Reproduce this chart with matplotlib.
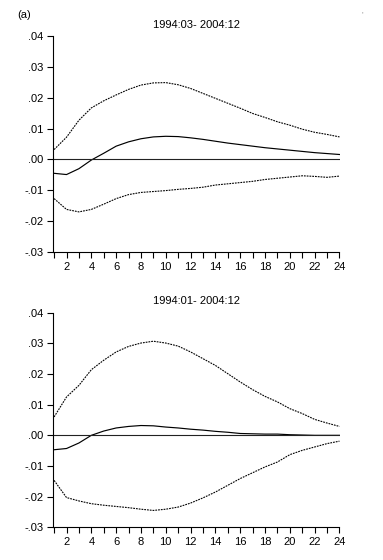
import matplotlib
matplotlib.use("Agg")
import matplotlib.pyplot as plt
from matplotlib.ticker import FixedLocator, FixedFormatter

plt.rcParams['font.family'] = ['Liberation Sans', 'DejaVu Sans']

horizon = list(range(1, 25))

titles = ["1994:03- 2004:12", "1994:01- 2004:12"]

mean_top = [-0.0045, -0.0049, -0.0030, -0.0002, 0.0020, 0.0043, 0.0057, 0.0067, 0.0073, 0.0075,
            0.0074, 0.0070, 0.0065, 0.0059, 0.0053, 0.0048, 0.0043, 0.0038, 0.0034, 0.0030,
            0.0026, 0.0022, 0.0019, 0.0016]
upper_top = [0.0032, 0.0072, 0.0127, 0.0167, 0.0190, 0.0209, 0.0227, 0.0241, 0.0248, 0.0249,
             0.0242, 0.0230, 0.0214, 0.0198, 0.0182, 0.0166, 0.0149, 0.0136, 0.0122, 0.0111,
             0.0098, 0.0088, 0.0081, 0.0073]
lower_top = [-0.0127, -0.0162, -0.0170, -0.0162, -0.0145, -0.0127, -0.0114, -0.0107, -0.0104, -0.0101,
             -0.0097, -0.0094, -0.0090, -0.0083, -0.0079, -0.0075, -0.0071, -0.0065, -0.0061, -0.0057,
             -0.0053, -0.0055, -0.0058, -0.0054]

mean_bot = [-0.0047, -0.0043, -0.0025, 0.0000, 0.0014, 0.0024, 0.0029, 0.0032, 0.0031, 0.0027,
            0.0024, 0.0020, 0.0017, 0.0013, 0.0010, 0.0006, 0.0005, 0.0004, 0.0004, 0.0002,
            0.0001, 0.0000, 0.0000, 0.0000]
upper_bot = [0.0060, 0.0125, 0.0163, 0.0214, 0.0245, 0.0272, 0.0290, 0.0301, 0.0307, 0.0301,
             0.0291, 0.0272, 0.0250, 0.0228, 0.0201, 0.0174, 0.0149, 0.0127, 0.0109, 0.0087,
             0.0071, 0.0052, 0.0040, 0.0029]
lower_bot = [-0.0147, -0.0203, -0.0214, -0.0223, -0.0228, -0.0232, -0.0236, -0.0241, -0.0245, -0.0241,
             -0.0234, -0.0221, -0.0204, -0.0185, -0.0163, -0.0141, -0.0122, -0.0103, -0.0087, -0.0063,
             -0.0049, -0.0038, -0.0027, -0.0019]

y_ticks = [0.04, 0.03, 0.02, 0.01, 0.00, -0.01, -0.02, -0.03]
y_labels = [".04", ".03", ".02", ".01", ".00", "-.01", "-.02", "-.03"]
x_labels = ["" if h % 2 else str(h) for h in horizon]

fig = plt.figure(figsize=(3.83, 5.6), dpi=100)
left, width = 0.139, 0.749
ax1 = fig.add_axes([left, 0.55, width, 0.3857])
ax2 = fig.add_axes([left, 0.0584, width, 0.3832])

panels = [(ax1, mean_top, upper_top, lower_top, titles[0]),
          (ax2, mean_bot, upper_bot, lower_bot, titles[1])]

for ax, m, u, l, t in panels:
    ax.plot(horizon, m, color='black', lw=0.85)
    ax.plot(horizon, u, color='black', lw=0.8, ls=(0, (1.6, 0.9)))
    ax.plot(horizon, l, color='black', lw=0.8, ls=(0, (1.6, 0.9)))
    ax.plot([horizon[0], horizon[-1]], [0, 0], color='#222222', lw=0.8)
    ax.set_xlim(0.93, 24.05)
    ax.set_ylim(-0.03, 0.04)
    ax.yaxis.set_major_locator(FixedLocator(y_ticks))
    ax.yaxis.set_major_formatter(FixedFormatter(y_labels))
    ax.xaxis.set_major_locator(FixedLocator(horizon))
    ax.xaxis.set_major_formatter(FixedFormatter(x_labels))
    for s in ['top', 'right']:
        ax.spines[s].set_visible(False)
    ax.spines['bottom'].set_bounds(0.93, 24)
    ax.tick_params(axis='both', direction='out', length=4, width=0.8, labelsize=8, pad=3)
    ax.set_title(t, fontsize=8, pad=6)

fig.text(0.045, 0.974, "(a)", fontsize=8, ha='left', va='center')
fig.text(0.945, 0.974, "'", fontsize=6, ha='center', va='center', color='#888888')

fig.savefig("out.png", dpi=100)
